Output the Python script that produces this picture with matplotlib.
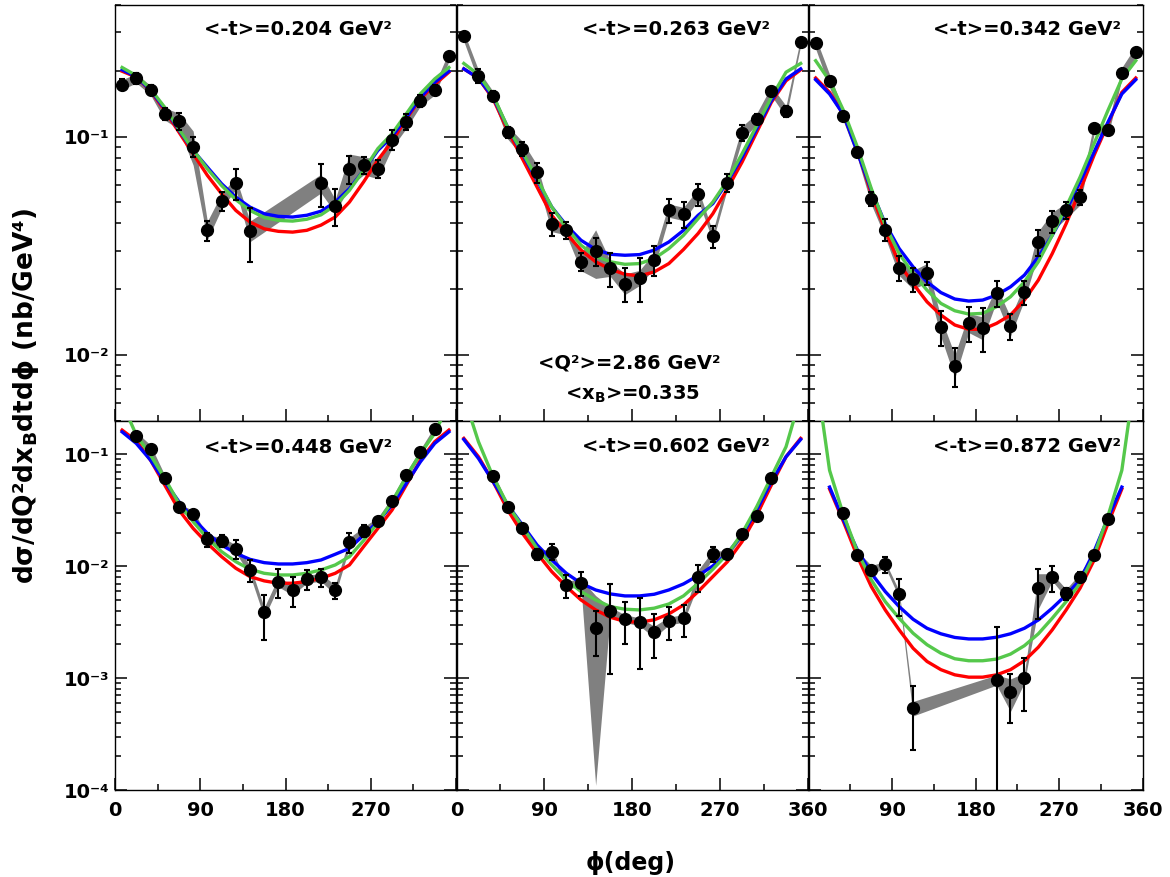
import matplotlib
matplotlib.use('Agg')
import matplotlib.pyplot as plt
from matplotlib.ticker import FixedLocator, FixedFormatter, LogLocator, NullFormatter
from numpy import array, nan

plt.rcParams['font.family'] = 'DejaVu Sans'
plt.rcParams['font.weight'] = 'bold'
plt.rcParams['mathtext.fontset'] = 'dejavusans'
plt.rcParams['mathtext.default'] = 'bf'

W, H = 1170, 877

# phi bin centres (deg), used by the model curves
PHI_BINS = [7.5, 22.5, 37.5, 52.5, 67.5, 82.5, 97.5, 112.5, 127.5, 142.5, 157.5, 172.5,
            187.5, 202.5, 217.5, 232.5, 247.5, 262.5, 277.5, 292.5, 307.5, 322.5, 337.5, 352.5]

T_LABELS = ['0.204', '0.263', '0.342', '0.448', '0.602', '0.872']

# ---- <-t>=0.204
phi1 = [7.5, 22.5, 37.5, 52.5, 67.5, 82.5, 97.5, 112.5, 127.5, 142.5,
        217.5, 232.5, 247.5, 262.5, 277.5, 292.5, 307.5, 322.5, 337.5, 352.5]
xs1 = [0.173, 0.185, 0.163, 0.127, 0.118, 0.090, 0.0373, 0.0507, 0.0612, 0.0370,
       0.0612, 0.0481, 0.0711, 0.0738, 0.0711, 0.0966, 0.117, 0.146, 0.164, 0.233]
stat1 = [0.0095, 0.011, 0.0085, 0.0085, 0.0105, 0.0095, 0.0039, 0.0053, 0.010, 0.0103,
         0.0138, 0.0092, 0.0103, 0.0065, 0.0068, 0.010, 0.010, 0.0095, 0.0085, 0.008]
sys1 = [0.009, 0.009, 0.008, 0.008, 0.010, 0.016, 0.0036, 0.004, 0.004, 0.004,
        0.006, 0.0035, 0.012, 0.007, 0.007, 0.008, 0.008, 0.008, 0.009, 0.012]
blue1 = [0.202, 0.188, 0.163, 0.134, 0.107, 0.0863, 0.0724, 0.0608, 0.0528, 0.0475, 0.0443, 0.0431,
         0.0428, 0.0436, 0.0455, 0.0501, 0.0577, 0.070, 0.0863, 0.100, 0.122, 0.151, 0.177, 0.199]
green1 = [0.207, 0.190, 0.165, 0.136, 0.108, 0.0869, 0.0711, 0.0597, 0.0514, 0.0459, 0.0426, 0.0413,
          0.0410, 0.0418, 0.0438, 0.0484, 0.0567, 0.070, 0.088, 0.103, 0.127, 0.157, 0.1834, 0.207]
red1 = [0.199, 0.187, 0.162, 0.1315, 0.1047, 0.0834, 0.0664, 0.0547, 0.0459, 0.0406, 0.0378, 0.0368,
        0.0365, 0.0372, 0.0393, 0.0428, 0.0501, 0.062, 0.078, 0.095, 0.1205, 0.1486, 0.173, 0.197]

# ---- <-t>=0.263
phi2 = PHI_BINS
xs2 = [0.287, 0.190, 0.153, 0.1046, 0.0879, 0.0687, 0.0399, 0.0373, 0.0267, 0.0299, 0.0249, 0.0212,
       0.0226, 0.0272, 0.0459, 0.0443, 0.0543, 0.0349, 0.0615, 0.104, 0.1205, 0.162, 0.1305, 0.272]
stat2 = [0.010, 0.0133, 0.008, 0.006, 0.0065, 0.0073, 0.0049, 0.0032, 0.0025, 0.0044, 0.0044, 0.0038,
         0.0052, 0.0043, 0.0056, 0.0061, 0.0062, 0.004, 0.006, 0.0085, 0.0068, 0.006, 0.0077, 0.008]
sys2 = [0.0144, 0.0114, 0.0077, 0.0073, 0.0070, 0.0055, 0.0032, 0.0019, 0.0024, 0.0075, 0.0020, 0.0023,
        0.0018, 0.0022, 0.0032, 0.0031, 0.0033, 0.0017, 0.0037, 0.0073, 0.0072, 0.0081, 0.0078, 0.011]
blue2 = [0.204, 0.185, 0.151, 0.110, 0.0834, 0.0630, 0.0476, 0.0392, 0.0335, 0.0304, 0.0289, 0.0286,
         0.0288, 0.0302, 0.0329, 0.0372, 0.0436, 0.0493, 0.0619, 0.0805, 0.1084, 0.146, 0.1834, 0.204]
green2 = [0.216, 0.192, 0.154, 0.110, 0.0848, 0.0641, 0.0476, 0.0385, 0.0318, 0.0283, 0.0267, 0.0260,
          0.0262, 0.0276, 0.0307, 0.0353, 0.0421, 0.0501, 0.0630, 0.0834, 0.1122, 0.151, 0.197, 0.216]
red2 = [0.204, 0.185, 0.1486, 0.1065, 0.0791, 0.0587, 0.0436, 0.0360, 0.0302, 0.0267, 0.0247, 0.0234,
        0.0230, 0.0240, 0.0262, 0.0304, 0.0360, 0.0443, 0.0577, 0.0764, 0.1047, 0.1435, 0.180, 0.202]

# ---- <-t>=0.342
phi3 = PHI_BINS
xs3 = [0.268, 0.180, 0.1247, 0.0848, 0.0519, 0.0375, 0.0251, 0.0222, 0.0238, 0.01346, 0.00893, 0.01406,
       0.01334, 0.01914, 0.01355, 0.0194, 0.0329, 0.0409, 0.0459, 0.0528, 0.109, 0.107, 0.1953, 0.245]
stat3 = [0.008, 0.007, 0.005, 0.004, 0.0037, 0.0042, 0.0033, 0.0027, 0.0029, 0.0025, 0.0018, 0.0026,
         0.003, 0.0026, 0.0018, 0.0024, 0.0046, 0.0048, 0.004, 0.004, 0.005, 0.005, 0.007, 0.008]
sys3 = [0.016, 0.0126, 0.0075, 0.0051, 0.0031, 0.0030, 0.0020, 0.0022, 0.0024, 0.00135, 0.00107, 0.0014,
        0.0016, 0.0015, 0.00135, 0.00155, 0.0039, 0.0041, 0.0037, 0.0042, 0.0065, 0.0064, 0.0117, 0.0147]
blue3 = [0.182, 0.1566, 0.126, 0.0848, 0.0567, 0.0399, 0.0307, 0.0253, 0.0216, 0.0193, 0.01803, 0.01765,
         0.01783, 0.0188, 0.0205, 0.0232, 0.0281, 0.0353, 0.0459, 0.0619, 0.0848, 0.1162, 0.1566, 0.182]
green3 = [0.2223, 0.180, 0.1315, 0.0894, 0.0577, 0.0392, 0.0291, 0.0236, 0.0198, 0.01721, 0.01593, 0.01539,
          0.01550, 0.01663, 0.01846, 0.0216, 0.0267, 0.0353, 0.0476, 0.0652, 0.0926, 0.1315, 0.1834, 0.2223]
red3 = [0.1853, 0.1593, 0.126, 0.0863, 0.0547, 0.0372, 0.0262, 0.0212, 0.01751, 0.01523, 0.01371, 0.0131,
        0.0131, 0.01395, 0.01523, 0.01783, 0.0220, 0.0291, 0.0399, 0.0567, 0.0819, 0.1142, 0.1593, 0.1853]

# ---- <-t>=0.448
phi4 = [22.5, 37.5, 52.5, 67.5, 82.5, 97.5, 112.5, 127.5, 142.5, 157.5, 172.5,
        187.5, 202.5, 217.5, 232.5, 247.5, 262.5, 277.5, 292.5, 307.5, 322.5, 337.5]
xs4 = [0.1466, 0.1122, 0.0610, 0.0336, 0.0293, 0.0174, 0.01693, 0.01436, 0.00927, 0.00388, 0.00728,
       0.00614, 0.00770, 0.00798, 0.00614, 0.01637, 0.0208, 0.0255, 0.0386, 0.0653, 0.1043, 0.167]
stat4 = [0.006, 0.005, 0.003, 0.0015, 0.002, 0.0025, 0.0022, 0.0027, 0.002, 0.0017, 0.0021,
         0.0018, 0.0016, 0.0015, 0.001, 0.0033, 0.0025, 0.0015, 0.002, 0.003, 0.004, 0.007]
sys4 = [0.0117, 0.009, 0.0043, 0.0024, 0.0023, 0.0014, 0.00135, 0.00115, 0.00093, 0.00039, 0.00073,
        0.00061, 0.00062, 0.00064, 0.00061, 0.0016, 0.0017, 0.0018, 0.0027, 0.0046, 0.0073, 0.0117]
blue4 = [0.159, 0.1253, 0.0889, 0.0570, 0.0378, 0.0268, 0.0197, 0.0155, 0.01306, 0.01153, 0.01077, 0.01048,
         0.01048, 0.01077, 0.01138, 0.0128, 0.01446, 0.0190, 0.0250, 0.0353, 0.055, 0.086, 0.1253, 0.159]
green4 = [0.289, 0.1487, 0.0986, 0.0610, 0.0365, 0.0250, 0.0178, 0.01351, 0.01099, 0.0094, 0.00865, 0.00836,
          0.00836, 0.00865, 0.00927, 0.01027, 0.01219, 0.0170, 0.0245, 0.0378, 0.0631, 0.102, 0.1539, 0.289]
red4 = [0.1648, 0.1323, 0.0889, 0.0532, 0.0318, 0.0218, 0.0160, 0.01219, 0.0096, 0.00808, 0.0074, 0.00705,
        0.00705, 0.0073, 0.00781, 0.00865, 0.01027, 0.0150, 0.0218, 0.0318, 0.0532, 0.0889, 0.1297, 0.1648]

# ---- <-t>=0.602
phi5 = [37.5, 52.5, 67.5, 82.5, 97.5, 112.5, 127.5, 142.5, 157.5, 172.5,
        187.5, 202.5, 217.5, 232.5, 247.5, 262.5, 277.5, 292.5, 307.5, 322.5]
xs5 = [0.0645, 0.0338, 0.0218, 0.01288, 0.01349, 0.00681, 0.00714, 0.00279, 0.00399, 0.00341,
       0.00320, 0.00261, 0.00325, 0.00343, 0.00807, 0.01288, 0.01288, 0.0193, 0.0281, 0.0611]
stat5 = [0.003, 0.0015, 0.001, 0.0015, 0.0022, 0.0016, 0.0017, 0.0012, 0.0029, 0.0014,
         0.002, 0.0011, 0.00105, 0.0011, 0.0022, 0.002, 0.001, 0.0012, 0.0015, 0.003]
sys5 = [0.0045, 0.0027, 0.0017, 0.0009, 0.0008, 0.00054, 0.00057, 0.00268, 0.00032, 0.00027,
        0.00026, 0.00031, 0.00026, 0.00027, 0.0012, 0.0009, 0.00077, 0.00116, 0.0017, 0.0037]
blue5 = [0.136, 0.092, 0.0570, 0.0353, 0.0234, 0.0155, 0.01138, 0.00865, 0.00705, 0.00614, 0.00566, 0.00543,
         0.00543, 0.00562, 0.00614, 0.00695, 0.00825, 0.01006, 0.01306, 0.0190, 0.0318, 0.0570, 0.0952, 0.136]
green5 = [0.33, 0.1297, 0.0631, 0.0353, 0.0226, 0.01446, 0.01027, 0.00755, 0.00594, 0.0050, 0.00436, 0.00413,
          0.00407, 0.00422, 0.0046, 0.00543, 0.00705, 0.0094, 0.01288, 0.0197, 0.0341, 0.0631, 0.117, 0.33]
red5 = [0.139, 0.0952, 0.057, 0.0318, 0.0197, 0.01306, 0.00896, 0.00658, 0.0050, 0.00407, 0.0035, 0.00321,
        0.00316, 0.00332, 0.00375, 0.00451, 0.00594, 0.00808, 0.01099, 0.0166, 0.0287, 0.0532, 0.0952, 0.139]

# ---- <-t>=0.872
phi6 = [37.5, 52.5, 67.5, 82.5, 97.5, 112.5, 202.5, 217.5, 232.5, 247.5, 262.5, 277.5, 292.5, 307.5, 322.5]
xs6 = [0.0297, 0.01262, 0.00927, 0.01042, 0.00562, 0.000539, 0.000966, 0.000744, 0.00101, 0.00637,
       0.00798, 0.00574, 0.00807, 0.01262, 0.0264]
stat6 = [0.0012, 0.0006, 0.0005, 0.0017, 0.002, 0.00031, 0.0019, 0.00035, 0.0005, 0.003,
         0.0021, 0.0007, 0.0008, 0.001, 0.0015]
sys6 = [0.002, 0.001, 0.0009, 0.0006, 0.0004, 0.00008, 0.0001, 0.00024, 0.0001, 0.0022,
        0.0006, 0.0005, 0.0006, 0.0009, 0.0017]
blue6 = [nan, 0.051, 0.0259, 0.01398, 0.00865, 0.00594, 0.00436, 0.00336, 0.00279, 0.00249, 0.00231, 0.00224,
         0.00224, 0.00232, 0.00249, 0.00279, 0.00331, 0.00422, 0.00554, 0.00755, 0.0135, 0.027, 0.051, nan]
green6 = [0.55, 0.072, 0.0287, 0.01351, 0.00755, 0.00483, 0.00343, 0.00252, 0.00199, 0.00167, 0.00149, 0.00143,
          0.00143, 0.00148, 0.00164, 0.00195, 0.00249, 0.00343, 0.00483, 0.00705, 0.0125, 0.028, 0.072, 0.55]
red6 = [nan, 0.049, 0.025, 0.01219, 0.00658, 0.00407, 0.0027, 0.00185, 0.00141, 0.00119, 0.00107, 0.00102,
        0.00102, 0.00107, 0.00119, 0.00143, 0.00189, 0.0027, 0.00407, 0.00637, 0.0113, 0.024, 0.049, nan]


def fx(px):
    return px / W


def fy(py):
    return 1 - py / H


# pixel frames of the pads: (left, right) per column, (top, bottom) per row
COLS = [(115, 456), (456.5, 808), (808.7, 1142.7)]
ROWS = [(5, 420.7), (420.7, 790)]
YLIMS = [(0.005, 0.4), (1e-4, 0.2)]
YTICKS = [[0.01, 0.1], [1e-4, 1e-3, 1e-2, 1e-1]]
YLABELS = [['10\u207b\u00b2', '10\u207b\u00b9'],
           ['10\u207b\u2074', '10\u207b\u00b3', '10\u207b\u00b2', '10\u207b\u00b9']]
XLABELS = [['0', '90', '180', '270', ''],
           ['0', '90', '180', '270', '360'],
           ['', '90', '180', '270', '360']]
TITLE_POS = [(204, 35), (581.7, 35), (933, 35), (204, 453), (581.7, 452), (933, 452)]

BAND = '#808080'
BLUE = '#0000ff'
GREEN = '#55c84b'
RED = '#ff0000'


def makeAxes(fig, col, row):
    x0, x1 = COLS[col]
    y0, y1 = ROWS[row]
    ax = fig.add_axes([fx(x0), fy(y1), fx(x1 - x0), (y1 - y0) / H])
    ax.set_yscale('log')
    ax.set_xlim(0, 360)
    ax.set_ylim(*YLIMS[row])
    for s in ax.spines.values():
        s.set_linewidth(1.0)
    ax.xaxis.set_major_locator(FixedLocator([0, 90, 180, 270, 360]))
    ax.xaxis.set_minor_locator(FixedLocator([45, 135, 225, 315]))
    if row == 1:
        ax.xaxis.set_major_formatter(FixedFormatter(XLABELS[col]))
    else:
        ax.set_xticklabels([])
    ax.yaxis.set_major_locator(FixedLocator(YTICKS[row]))
    ax.yaxis.set_minor_locator(LogLocator(base=10, subs=[2, 3, 4, 5, 6, 7, 8, 9], numticks=20))
    ax.yaxis.set_minor_formatter(NullFormatter())
    if col == 0:
        ax.yaxis.set_major_formatter(FixedFormatter(YLABELS[row]))
    else:
        ax.set_yticklabels([])
    ax.tick_params(axis='both', which='both', direction='in', width=1.1,
                   top=False, right=True, labelsize=14)
    ax.tick_params(axis='both', which='major', length=8.5)
    ax.tick_params(axis='both', which='minor', length=4.5)
    ax.tick_params(axis='x', pad=8)
    ax.tick_params(axis='y', pad=4)
    return ax


def drawPanel(ax, phi, xs, stat, sys, blue, green, red):
    xs, stat, sys = array(xs), array(stat), array(sys)
    ax.fill_between(phi, xs - sys, xs + sys, color=BAND, lw=0, zorder=1)
    ax.plot(PHI_BINS, red, color=RED, lw=2.4, zorder=2)
    ax.plot(PHI_BINS, blue, color=BLUE, lw=2.4, zorder=3)
    ax.plot(PHI_BINS, green, color=GREEN, lw=2.4, zorder=4)
    ax.errorbar(phi, xs, yerr=stat, fmt='o', color='k', ms=8.5, elinewidth=1.5,
                capsize=2.2, capthick=1.5, zorder=5)


if __name__ == '__main__':
    fig = plt.figure(figsize=(W / 100, H / 100), dpi=100)
    fig.patch.set_facecolor('white')

    panels = [(phi1, xs1, stat1, sys1, blue1, green1, red1),
              (phi2, xs2, stat2, sys2, blue2, green2, red2),
              (phi3, xs3, stat3, sys3, blue3, green3, red3),
              (phi4, xs4, stat4, sys4, blue4, green4, red4),
              (phi5, xs5, stat5, sys5, blue5, green5, red5),
              (phi6, xs6, stat6, sys6, blue6, green6, red6)]

    for i, p in enumerate(panels):
        row, col = divmod(i, 3)
        ax = makeAxes(fig, col, row)
        drawPanel(ax, *p)
        tx, ty = TITLE_POS[i]
        fig.text(fx(tx), fy(ty), '<-t>=' + T_LABELS[i] + ' GeV\u00b2',
                 fontsize=14, fontweight='bold', ha='left', va='baseline')

    fig.text(fx(538), fy(368), '<Q\u00b2>=2.86 GeV\u00b2', fontsize=14,
             fontweight='bold', ha='left', va='baseline')
    fig.text(fx(565), fy(400), '<x$_\\mathbf{B}$>=0.335', fontsize=14,
             fontweight='bold', ha='left', va='baseline')

    fig.text(fx(26), fy(396), 'd\u03c3/dQ\u00b2dx$_\\mathbf{B}$dtd\u03d5 (nb/GeV\u2074)',
             rotation=90, fontsize=19, fontweight='bold', ha='center', va='center')
    fig.text(fx(631), fy(863), '\u03d5(deg)', fontsize=17, fontweight='bold',
             ha='center', va='center')

    plt.savefig('out.png', dpi=100)
